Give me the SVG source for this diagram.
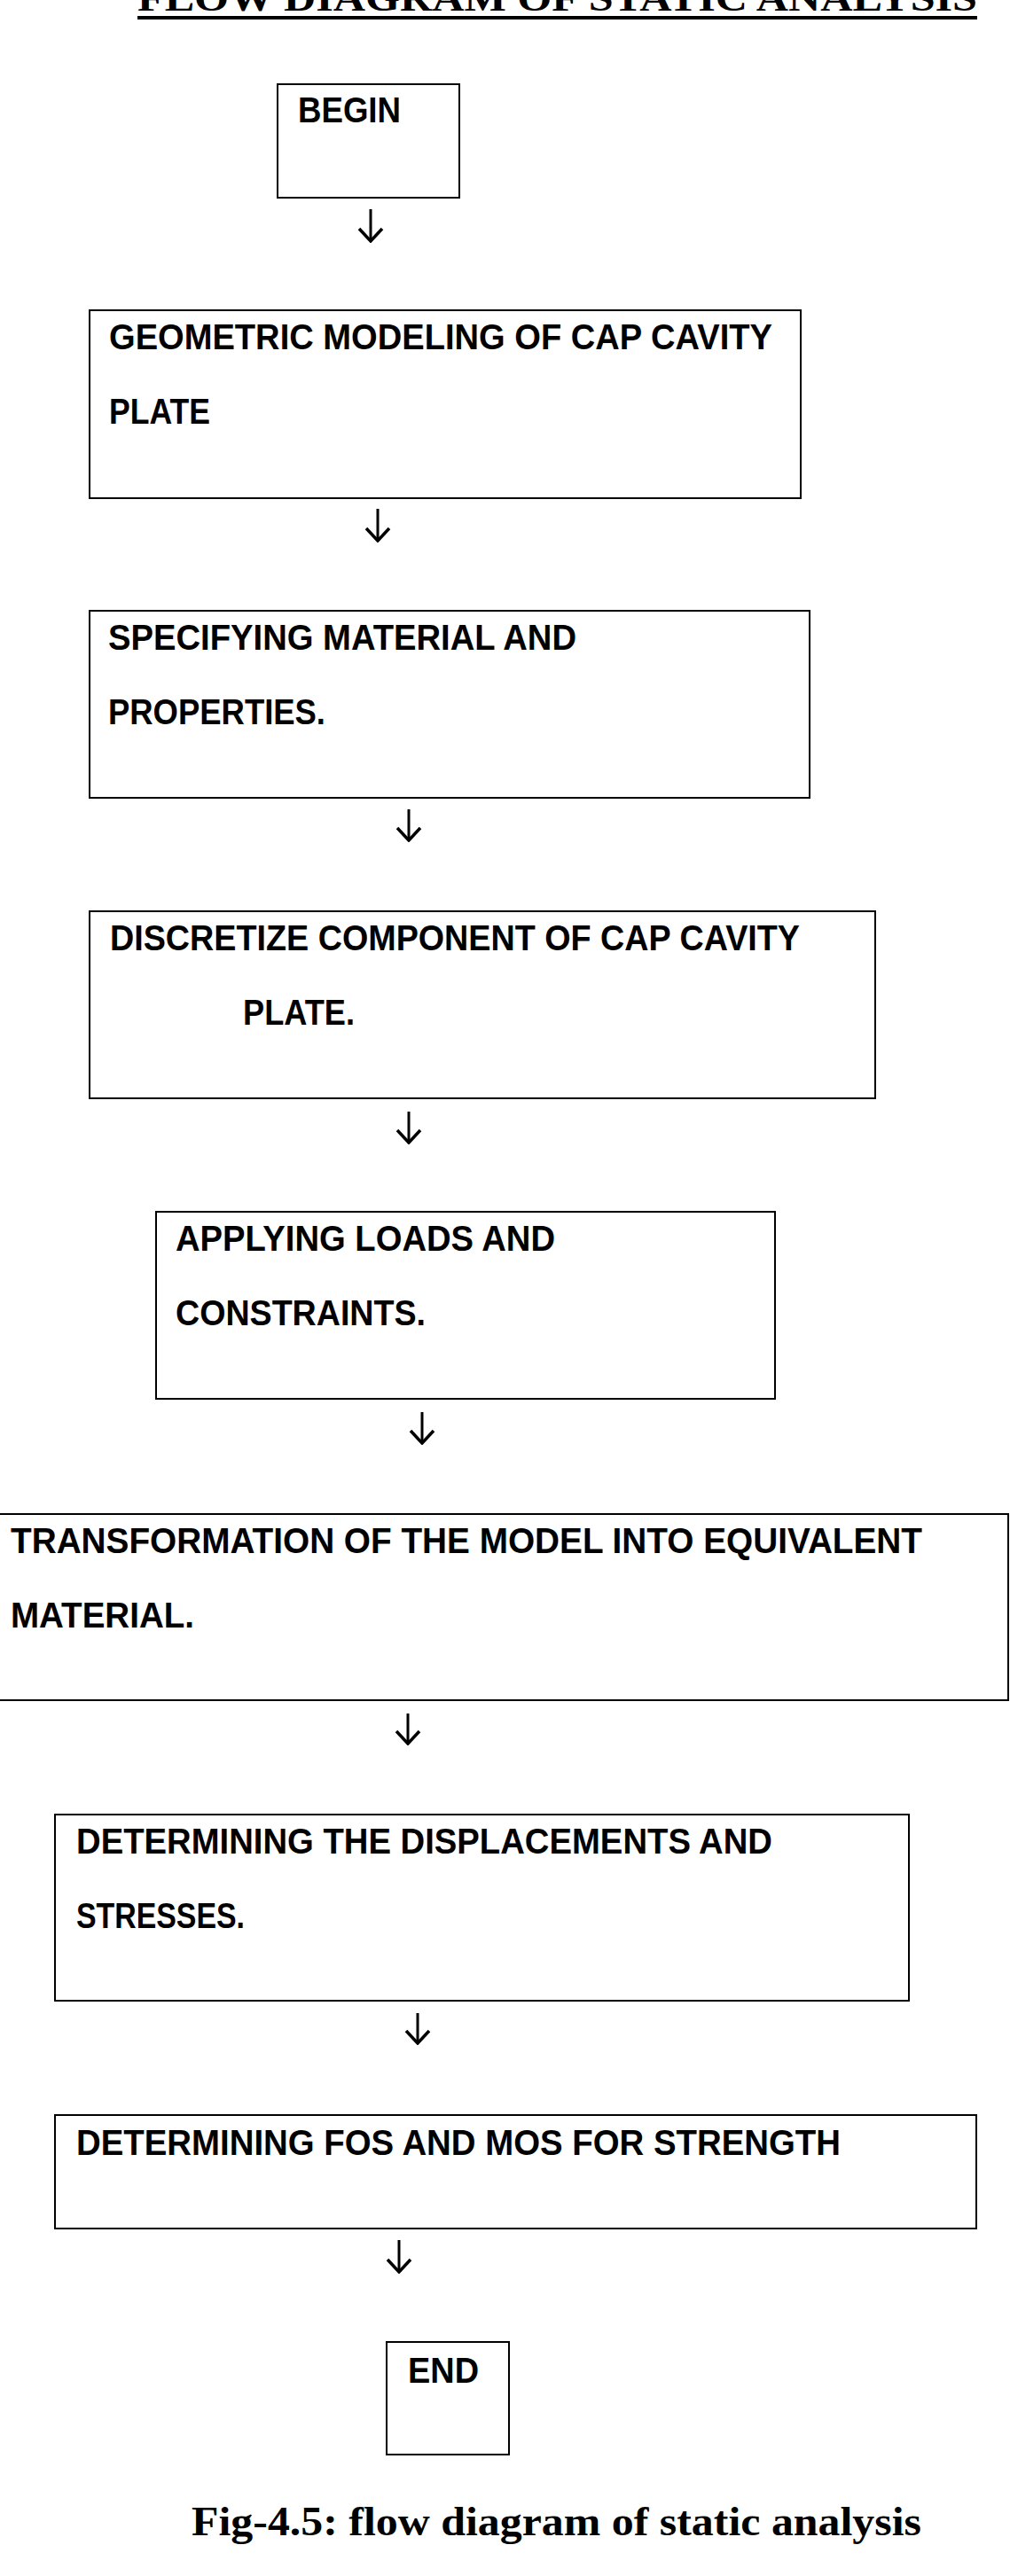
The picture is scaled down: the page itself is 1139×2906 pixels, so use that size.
<svg xmlns="http://www.w3.org/2000/svg" width="1139" height="2906" viewBox="0 0 1139 2906">
<style>
.box{fill:#fff;stroke:#000;stroke-width:2}
.t{font-family:"Liberation Sans",Arial,sans-serif;font-weight:bold;font-size:40px;fill:#000}
.ser{font-family:"Liberation Serif","Times New Roman",serif;font-weight:bold;fill:#000}
.c{stroke:#000;stroke-width:3;fill:none}
</style>
<defs>
<marker id="ah" viewBox="0 0 30 30" refX="28" refY="15" markerWidth="30" markerHeight="30" markerUnits="userSpaceOnUse" orient="auto">
<path d="M14,2 L28,15 L14,28" fill="none" stroke="#000" stroke-width="3.5"/>
</marker>
</defs>
<rect width="1139" height="2906" fill="#fff"/>
<g id="title">
<text class="ser" x="155" y="12" font-size="42" textLength="947" lengthAdjust="spacingAndGlyphs">FLOW DIAGRAM OF STATIC ANALYSIS</text>
<rect x="155" y="18" width="947" height="4" fill="#000"/>
</g>
<g id="begin"><rect class="box" x="313" y="95" width="205" height="128"/>
<text class="t" x="336" y="138" textLength="116" lengthAdjust="spacingAndGlyphs">BEGIN</text></g>
<g id="geom"><rect class="box" x="101" y="350" width="802" height="212"/>
<text class="t" x="123" y="394" textLength="748" lengthAdjust="spacingAndGlyphs">GEOMETRIC MODELING OF CAP CAVITY</text>
<text class="t" x="123" y="478" textLength="114" lengthAdjust="spacingAndGlyphs">PLATE</text></g>
<g id="material"><rect class="box" x="101" y="689" width="812" height="211"/>
<text class="t" x="122" y="733" textLength="528" lengthAdjust="spacingAndGlyphs">SPECIFYING MATERIAL AND</text>
<text class="t" x="122" y="817" textLength="245" lengthAdjust="spacingAndGlyphs">PROPERTIES.</text></g>
<g id="discretize"><rect class="box" x="101" y="1028" width="886" height="211"/>
<text class="t" x="124" y="1072" textLength="778" lengthAdjust="spacingAndGlyphs">DISCRETIZE COMPONENT OF CAP CAVITY</text>
<text class="t" x="274" y="1156" textLength="126" lengthAdjust="spacingAndGlyphs">PLATE.</text></g>
<g id="loads"><rect class="box" x="176" y="1367" width="698" height="211"/>
<text class="t" x="198" y="1411" textLength="428" lengthAdjust="spacingAndGlyphs">APPLYING LOADS AND</text>
<text class="t" x="198" y="1495" textLength="282" lengthAdjust="spacingAndGlyphs">CONSTRAINTS.</text></g>
<g id="transform"><rect class="box" x="-2" y="1708" width="1139" height="210"/>
<text class="t" x="12" y="1752" textLength="1028" lengthAdjust="spacingAndGlyphs">TRANSFORMATION OF THE MODEL INTO EQUIVALENT</text>
<text class="t" x="12" y="1836" textLength="207" lengthAdjust="spacingAndGlyphs">MATERIAL.</text></g>
<g id="displacements"><rect class="box" x="62" y="2047" width="963" height="210"/>
<text class="t" x="86" y="2091" textLength="785" lengthAdjust="spacingAndGlyphs">DETERMINING THE DISPLACEMENTS AND</text>
<text class="t" x="86" y="2175" textLength="190" lengthAdjust="spacingAndGlyphs">STRESSES.</text></g>
<g id="fos"><rect class="box" x="62" y="2386" width="1039" height="128"/>
<text class="t" x="86" y="2431" textLength="862" lengthAdjust="spacingAndGlyphs">DETERMINING FOS AND MOS FOR STRENGTH</text></g>
<g id="end"><rect class="box" x="436" y="2642" width="138" height="127"/>
<text class="t" x="460" y="2688" textLength="80" lengthAdjust="spacingAndGlyphs">END</text></g>
<g id="connectors">
<line class="c" x1="418" y1="236" x2="418" y2="272" marker-end="url(#ah)"/>
<line class="c" x1="426" y1="574" x2="426" y2="610" marker-end="url(#ah)"/>
<line class="c" x1="461" y1="913" x2="461" y2="948" marker-end="url(#ah)"/>
<line class="c" x1="461" y1="1254" x2="461" y2="1289" marker-end="url(#ah)"/>
<line class="c" x1="476" y1="1593" x2="476" y2="1628" marker-end="url(#ah)"/>
<line class="c" x1="460" y1="1933" x2="460" y2="1967" marker-end="url(#ah)"/>
<line class="c" x1="471" y1="2271" x2="471" y2="2305" marker-end="url(#ah)"/>
<line class="c" x1="450" y1="2527" x2="450" y2="2563" marker-end="url(#ah)"/>
</g>
<text class="ser" x="216" y="2860" font-size="46" textLength="823" lengthAdjust="spacingAndGlyphs">Fig-4.5: flow diagram of static analysis</text>
</svg>
